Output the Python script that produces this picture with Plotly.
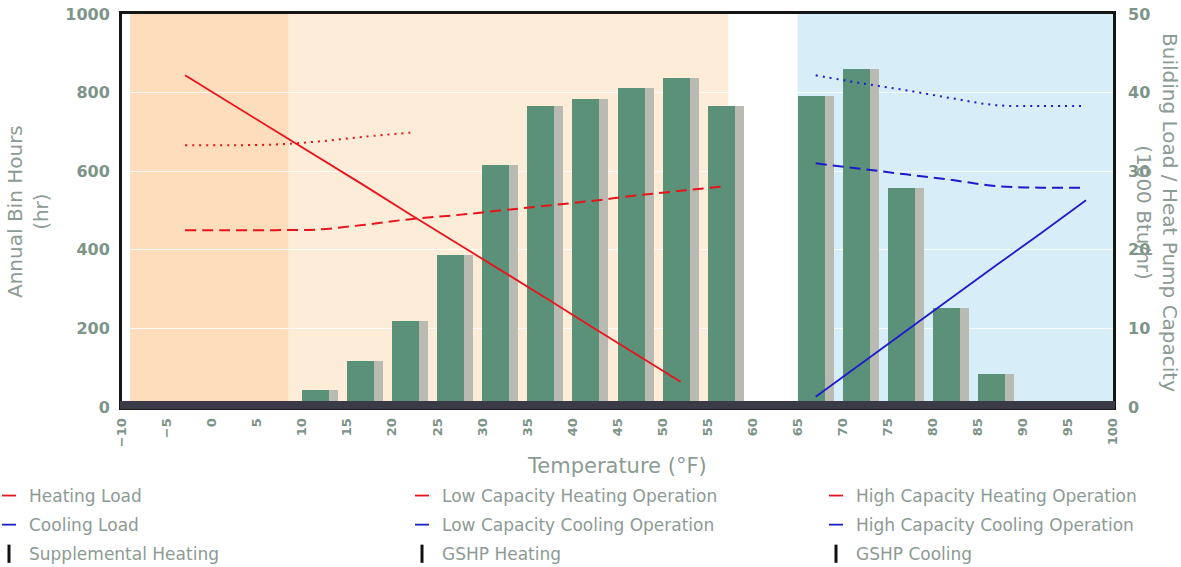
import plotly.graph_objects as go

# ---------------- data ----------------
bin_temps = [10, 15, 20, 25, 30, 35, 40, 45, 50, 55, 60, 65, 70, 75, 80, 85, 90, 95]
bin_hours = [42, 118, 218, 387, 617, 767, 783, 812, 837, 767, 0, 792, 860, 557, 252, 83, 15, 3]

heat_temps = [-3, 2, 7, 12, 17, 22, 27, 32, 37, 42, 47, 52]
heating_load = [42.2, 38.7, 35.2, 31.6, 28.1, 24.5, 21.0, 17.4, 13.9, 10.3, 6.8, 3.2]

low_heat_temps = [-3, 2, 7, 12, 17, 22, 27, 32, 37, 42, 47, 52, 57]
low_cap_heating = [22.5, 22.5, 22.5, 22.6, 23.2, 23.9, 24.4, 25.0, 25.6, 26.2, 26.9, 27.5, 28.1]

high_heat_temps = [-3, 2, 7, 12, 17, 22]
high_cap_heating = [33.3, 33.3, 33.4, 33.8, 34.4, 34.9]

cool_temps = [67, 72, 77, 82, 87, 92, 97]
cooling_load = [1.3, 5.5, 9.6, 13.8, 18.0, 22.1, 26.3]
low_cap_cooling = [31.0, 30.3, 29.6, 28.9, 28.1, 27.9, 27.9]
high_cap_cooling = [42.2, 41.2, 40.3, 39.3, 38.4, 38.3, 38.3]

# operating regions (temperature ranges)
region_names = ["Supplemental Heating", "GSHP Heating", "GSHP Cooling"]
region_start = [-9.1, 8.5, 65.0]
region_end = [8.5, 57.3, 100.0]
region_colors = ["#fdddbb", "#fdecd8", "#d7edf7"]

x_ticks = list(range(-10, 101, 5))
y_ticks = [0, 200, 400, 600, 800, 1000]
y2_ticks = [0, 10, 20, 30, 40, 50]

# ---------------- style ----------------
TICK_COLOR = "#7d9488"
TITLE_COLOR = "#8c9b94"
LEG_COLOR = "#8d9a94"
RED = "#e8141c"
BLUE = "#1c1ccc"

W, H = 1181, 567
ML = 122
MT = 14
PLOT_R = 1113
PLOT_B = 407
MR = W - PLOT_R
MB = H - PLOT_B
PW = W - ML - MR
PH = H - MT - MB


def px_to_paper_x(px):
    return (px - ML) / PW


def px_to_paper_y(py):
    return (PLOT_B - py) / PH


fig = go.Figure()

# bin-hour bars (gray shadow + green)
fig.add_trace(go.Bar(x=bin_temps, y=bin_hours, width=4, offset=0,
                     marker=dict(color="#b9bbb3", line=dict(width=0)),
                     showlegend=False, hoverinfo="skip"))
fig.add_trace(go.Bar(x=bin_temps, y=bin_hours, width=3, offset=0,
                     marker=dict(color="#5a9178", line=dict(width=0)),
                     showlegend=False))

SOLID = dict(width=1.8)
DASH = dict(width=2, dash="11px,6px")
DOT = dict(width=2, dash="2px,5px")

line_specs = [
    # x, y, name, color, style, legend column, shape
    (heat_temps, heating_load, "Heating Load", RED, SOLID, "legend", "linear"),
    (cool_temps, cooling_load, "Cooling Load", BLUE, SOLID, "legend", "linear"),
    (low_heat_temps, low_cap_heating, "Low Capacity Heating Operation", RED, DASH, "legend2", "spline"),
    (cool_temps, low_cap_cooling, "Low Capacity Cooling Operation", BLUE, DASH, "legend2", "spline"),
    (high_heat_temps, high_cap_heating, "High Capacity Heating Operation", RED, DOT, "legend3", "spline"),
    (cool_temps, high_cap_cooling, "High Capacity Cooling Operation", BLUE, DOT, "legend3", "spline"),
]
for xs, ys, nm, col, sty, leg, shp in line_specs:
    fig.add_trace(go.Scatter(x=xs, y=ys, yaxis="y2", mode="lines", name=nm,
                             line=dict(color=col, **sty), line_shape=shp,
                             showlegend=False, legendgroup=nm))
    # compact legend symbol
    fig.add_trace(go.Scatter(x=[None], y=[None], yaxis="y2", mode="markers", name=nm,
                             marker=dict(symbol="line-ew", size=10,
                                         line=dict(color=col, width=1.8)),
                             legend=leg, legendgroup=nm))

# legend entries for the operating regions
for nm, leg in zip(region_names, ["legend", "legend2", "legend3"]):
    fig.add_trace(go.Scatter(x=[None], y=[None], mode="markers", name=nm,
                             marker=dict(symbol="line-ns", size=13,
                                         line=dict(color="#111111", width=3)),
                             legend=leg, legendgroup=nm))

# region backgrounds
shapes = []
for x0, x1, c in zip(region_start, region_end, region_colors):
    shapes.append(dict(type="rect", xref="x", yref="paper", x0=x0, x1=x1, y0=0, y1=1,
                       fillcolor=c, line=dict(width=0), layer="below"))
# dark baseline strip
shapes.append(dict(type="rect", xref="paper", yref="paper", x0=-0.002, x1=1.002,
                   y0=-0.006, y1=0.015, fillcolor="#3b3b47", line=dict(width=0),
                   layer="above"))

tickfont = dict(family="DejaVu Sans", size=16, color=TICK_COLOR, weight="bold")

legend_common = dict(orientation="v", xanchor="left", yanchor="top",
                     bgcolor="rgba(0,0,0,0)", tracegroupgap=4,
                     font=dict(family="DejaVu Sans", size=17, color=LEG_COLOR),
                     itemwidth=30)

LEG_TOP = 478
fig.update_layout(
    width=W, height=H,
    margin=dict(l=ML, r=MR, t=MT, b=MB, autoexpand=False),
    paper_bgcolor="white", plot_bgcolor="white",
    barmode="overlay", bargap=0,
    shapes=shapes,
    xaxis=dict(range=[-10, 100], tickvals=x_ticks, tickangle=-90,
               showgrid=False, zeroline=False, showline=True, mirror=True,
               linecolor="#151515", linewidth=3, ticks="",
               tickfont=dict(family="DejaVu Sans", size=13, color=TICK_COLOR, weight="bold"),
               ticklabelstandoff=3, ticklabeloverflow="allow"),
    yaxis=dict(range=[0, 1000], tickvals=y_ticks, showgrid=True,
               gridcolor="rgba(255,255,255,0.85)", gridwidth=1,
               zeroline=False, showline=True, mirror=True,
               linecolor="#151515", linewidth=3, ticks="",
               tickfont=tickfont, ticklabelstandoff=6, ticklabeloverflow="allow"),
    yaxis2=dict(range=[0, 50], tickvals=y2_ticks, overlaying="y", side="right",
                showgrid=False, zeroline=False, showline=False, ticks="",
                tickfont=tickfont, ticklabelstandoff=14, ticklabeloverflow="allow"),
    legend=dict(legend_common, x=px_to_paper_x(-11), y=px_to_paper_y(LEG_TOP)),
    legend2=dict(legend_common, x=px_to_paper_x(402), y=px_to_paper_y(LEG_TOP)),
    legend3=dict(legend_common, x=px_to_paper_x(816), y=px_to_paper_y(LEG_TOP)),
    annotations=[
        dict(text="Temperature (°F)", xref="paper", yref="paper",
             x=px_to_paper_x(617), y=px_to_paper_y(466), showarrow=False,
             xanchor="center", yanchor="middle",
             font=dict(family="DejaVu Sans", size=21, color=TITLE_COLOR)),
        dict(text="Annual Bin Hours<br>(hr)", xref="paper", yref="paper",
             x=px_to_paper_x(28), y=px_to_paper_y(212), showarrow=False,
             textangle=-90, xanchor="center", yanchor="middle",
             font=dict(family="DejaVu Sans", size=20, color=TITLE_COLOR)),
        dict(text="Building Load / Heat Pump Capacity<br>(1000 Btu/hr)", xref="paper",
             yref="paper", x=px_to_paper_x(1157), y=px_to_paper_y(212), showarrow=False,
             textangle=90, xanchor="center", yanchor="middle",
             font=dict(family="DejaVu Sans", size=20, color=TITLE_COLOR)),
    ],
)

fig.write_html("out.html", config={"displayModeBar": False},
               post_script="document.body.style.margin='0';")
